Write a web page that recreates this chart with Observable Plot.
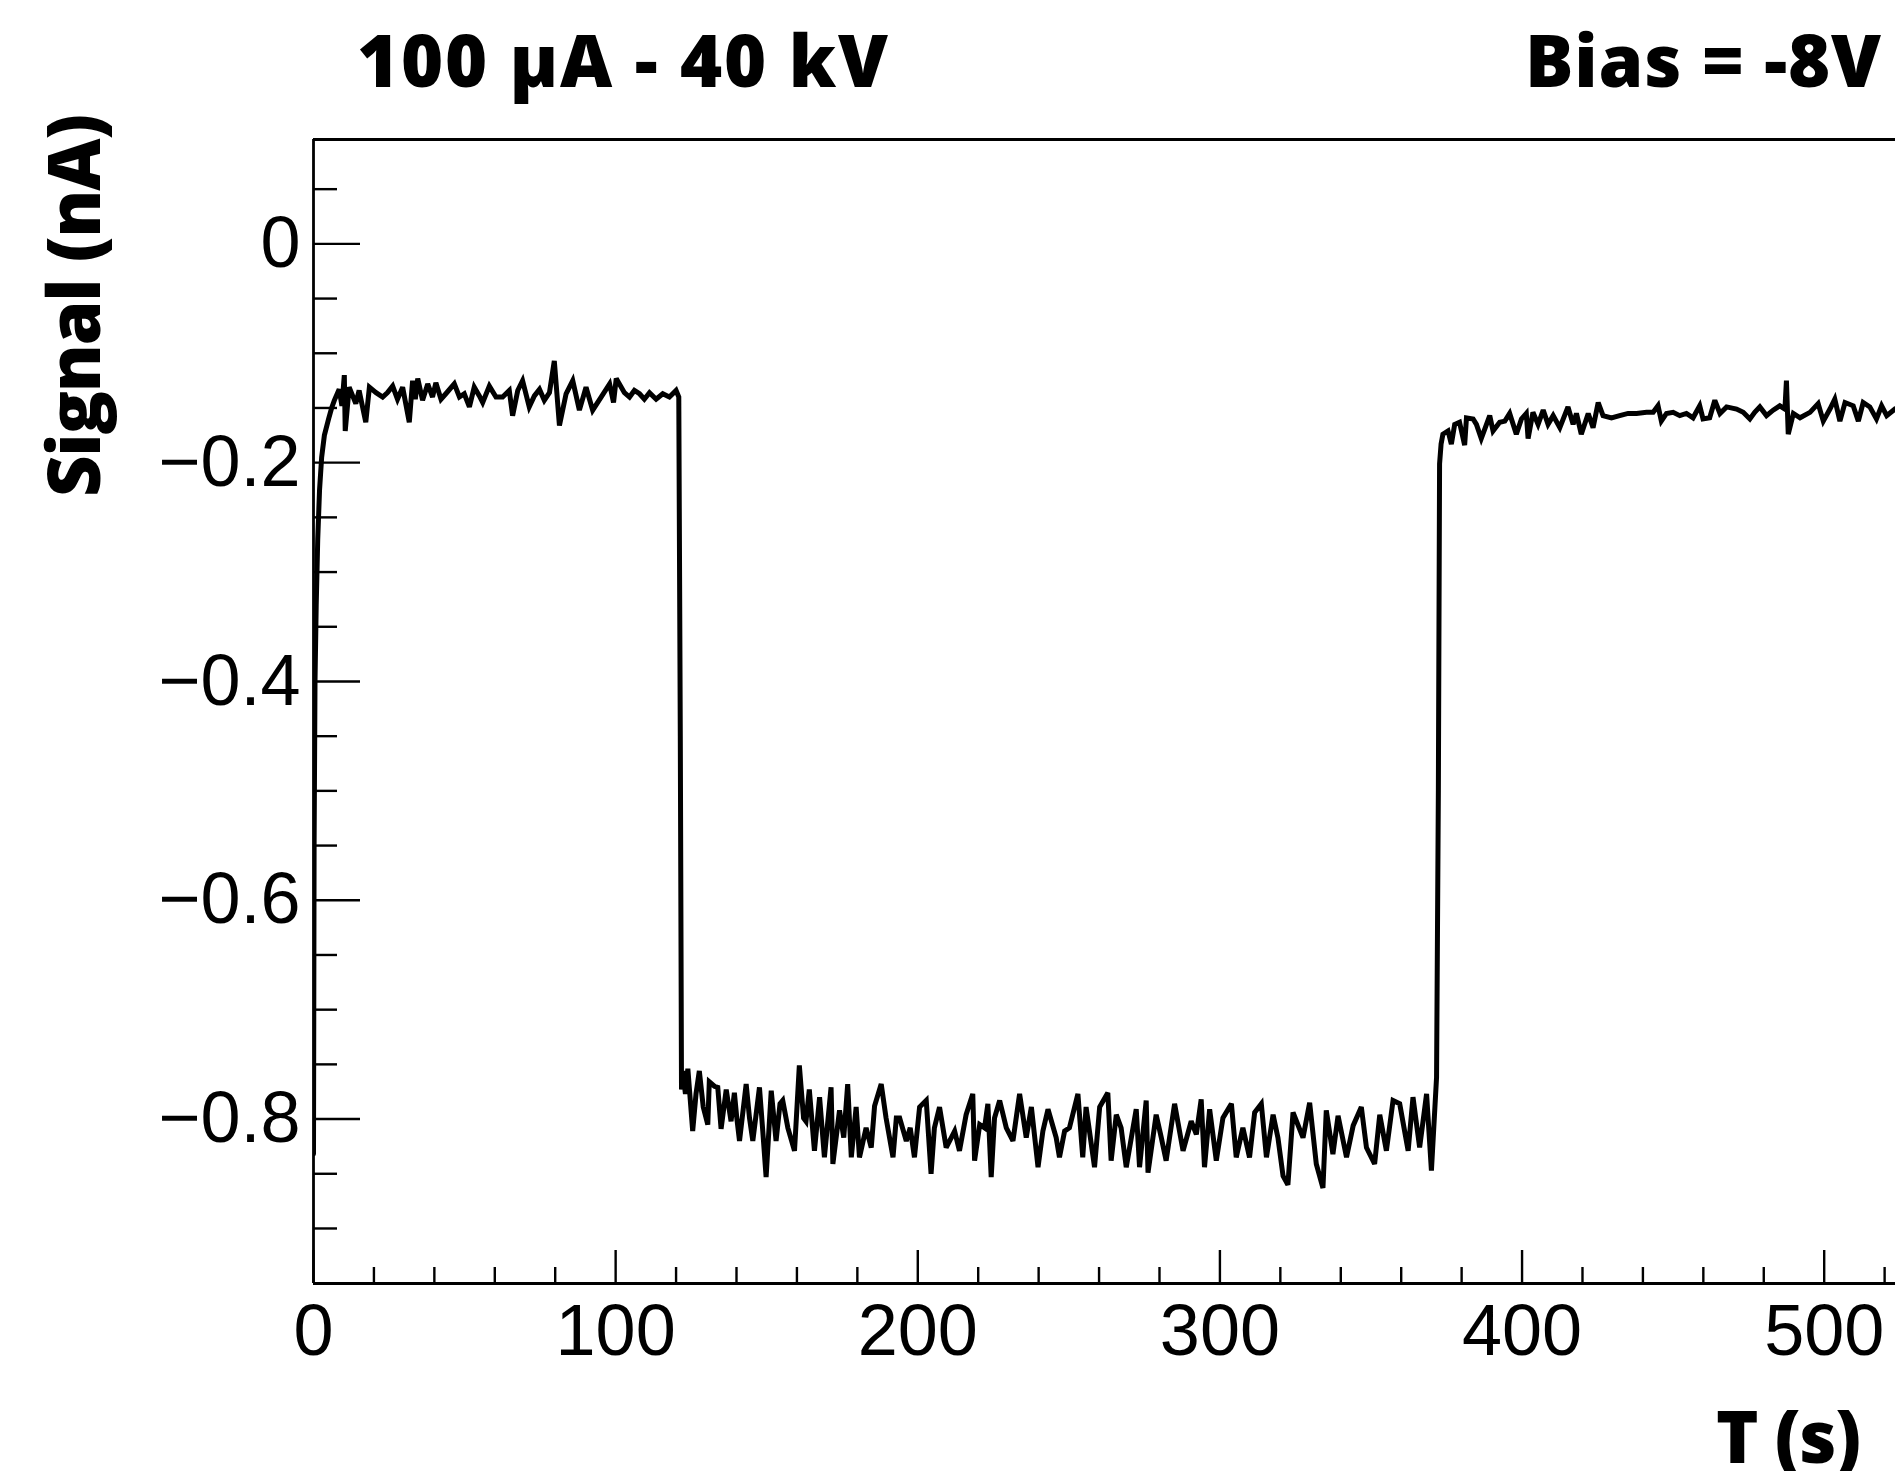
<!DOCTYPE html>
<html><head><meta charset="utf-8">
<script src="https://cdn.jsdelivr.net/npm/d3@7"></script>
<script src="https://cdn.jsdelivr.net/npm/@observablehq/plot@0.6"></script>
<style>body{margin:0;background:#fff;overflow:hidden}</style>
</head><body><div id="chart"></div>
<script>
// ---- data ----
const time1 = [0,0.2,0.5,0.9,1.4,2.0,2.7,3.6,5.0,6.0,6.9,8.5,9.4,10.2,10.5,11.8,14.0,15.1,17.3,18.5,20.7,22.9,24.5,26.2,27.8,29.5,31.7,32.8,33.7,34.5,36.1,37.8,39.4,40.5,42.2,43.8,46.6,48.3,49.9,51.6,53.2,54.9,56.0,58.2,60.4,62.6,64.8,65.9,67.6,69.2,71.4,73.1,74.8,76.4,78.1,79.7,81.4,83.6,85.8,88.0,90.2,92.4,95.2,98.0,99.3,100.2,102.9,104.6,106.2,107.9,109.5,111.2,113.4,115.6,117.8,120.0,120.9];
const signal1 = [-0.832,-0.55,-0.40,-0.33,-0.27,-0.225,-0.195,-0.175,-0.16,-0.15,-0.143,-0.133,-0.148,-0.120,-0.171,-0.131,-0.146,-0.134,-0.163,-0.131,-0.136,-0.140,-0.136,-0.130,-0.142,-0.131,-0.163,-0.125,-0.142,-0.123,-0.143,-0.128,-0.140,-0.127,-0.142,-0.137,-0.128,-0.140,-0.137,-0.149,-0.131,-0.139,-0.145,-0.130,-0.140,-0.140,-0.134,-0.157,-0.134,-0.125,-0.149,-0.139,-0.133,-0.143,-0.136,-0.107,-0.166,-0.137,-0.125,-0.152,-0.131,-0.152,-0.140,-0.128,-0.145,-0.123,-0.136,-0.140,-0.134,-0.137,-0.142,-0.136,-0.142,-0.137,-0.140,-0.134,-0.140];

const time2 = [121.4,121.8,122.2,123.1,123.9,125.5,126.6,127.7,129.0,130.5,131.0,132.7,133.8,134.9,136.6,138.2,139.3,140.1,141.0,143.2,144.3,145.4,147.6,148.7,149.8,151.5,153.1,154.4,155.3,157.0,159.2,160.8,162.2,163.0,164.1,165.8,167.5,169.1,171.3,171.9,174.1,175.5,176.8,178.0,179.6,180.7,182.9,184.6,185.7,187.9,189.5,191.8,192.9,194.0,196.2,197.5,198.9,200.6,202.8,204.4,205.5,207.2,209.4,211.1,212.2,213.8,216.0,218.2,218.8,220.5,222.1,223.2,224.3,225.4,227.1,229.3,231.5,233.7,235.9,237.6,239.8,241.4,243.1,245.8];
const signal2 = [-0.45,-0.773,-0.756,-0.777,-0.754,-0.811,-0.777,-0.756,-0.789,-0.805,-0.766,-0.770,-0.771,-0.809,-0.773,-0.802,-0.776,-0.799,-0.820,-0.768,-0.799,-0.820,-0.771,-0.811,-0.853,-0.774,-0.820,-0.786,-0.783,-0.808,-0.829,-0.751,-0.799,-0.802,-0.773,-0.829,-0.780,-0.835,-0.771,-0.841,-0.792,-0.817,-0.768,-0.835,-0.789,-0.835,-0.808,-0.826,-0.788,-0.768,-0.799,-0.835,-0.799,-0.799,-0.820,-0.808,-0.835,-0.789,-0.783,-0.850,-0.808,-0.789,-0.826,-0.817,-0.811,-0.829,-0.796,-0.777,-0.838,-0.805,-0.808,-0.786,-0.853,-0.799,-0.783,-0.808,-0.820,-0.777,-0.817,-0.789,-0.844,-0.811,-0.791,-0.817];

const time3 = [246.9,248.6,250.2,253.0,254.6,255.7,258.5,260.2,262.9,264.0,265.7,267.3,269.0,272.3,273.4,275.6,276.2,278.9,280.6,282.2,285.0,287.8,290.5,292.2,293.8,294.9,296.6,298.8,301.0,303.8,305.4,307.6,309.8,311.5,313.7,315.4,317.6,319.2,320.9,322.5,324.2,327.5,329.7,331.9,334.1,335.2,337.4,339.1,341.9,344.1,346.8,348.5,351.2,352.9,355.1,357.3,359.5,362.3,363.9,366.1,368.4,370.0,371.7];
const signal3 = [-0.835,-0.811,-0.808,-0.777,-0.835,-0.789,-0.844,-0.789,-0.776,-0.838,-0.796,-0.808,-0.844,-0.791,-0.844,-0.783,-0.849,-0.796,-0.817,-0.838,-0.786,-0.829,-0.802,-0.814,-0.782,-0.844,-0.791,-0.838,-0.799,-0.786,-0.835,-0.808,-0.835,-0.794,-0.786,-0.835,-0.796,-0.817,-0.852,-0.860,-0.794,-0.817,-0.785,-0.841,-0.863,-0.792,-0.832,-0.797,-0.835,-0.806,-0.789,-0.826,-0.841,-0.796,-0.829,-0.783,-0.786,-0.829,-0.780,-0.826,-0.777,-0.847,-0.762];

const time4 = [372.3,372.7,373.2,373.8,375.5,376.6,377.7,379.3,381.0,381.6,383.8,384.9,386.5,389.3,390.4,392.6,394.3,395.9,398.1,399.8,401.4,402.0,403.6,405.3,407.0,408.6,410.3,412.5,415.2,416.9,418.0,419.6,421.9,423.5,425.2,426.8,429.6,432.3,435.1,437.9,441.2,443.4,445.0,446.1,447.8,450.0,452.2,454.4,456.6,458.8,459.9,462.1,463.8,465.5,467.7,471.0,473.2,475.4,477.0,478.7,480.9,483.1,485.3,487.0,487.5,488.1,489.8,492.0,495.3,498.0,499.7,501.9,503.5,505.2,506.9,509.6,511.3,512.9,515.1,517.3,519.0,520.7,523.4,525.0];
const signal4 = [-0.50,-0.201,-0.183,-0.174,-0.171,-0.183,-0.165,-0.163,-0.184,-0.159,-0.160,-0.165,-0.178,-0.157,-0.171,-0.163,-0.162,-0.155,-0.174,-0.160,-0.155,-0.178,-0.154,-0.165,-0.152,-0.165,-0.157,-0.168,-0.149,-0.165,-0.155,-0.174,-0.155,-0.168,-0.145,-0.157,-0.159,-0.157,-0.155,-0.155,-0.154,-0.154,-0.148,-0.162,-0.155,-0.154,-0.157,-0.155,-0.159,-0.148,-0.160,-0.159,-0.143,-0.155,-0.149,-0.151,-0.154,-0.160,-0.154,-0.149,-0.157,-0.152,-0.148,-0.151,-0.125,-0.174,-0.155,-0.159,-0.154,-0.146,-0.162,-0.151,-0.142,-0.162,-0.145,-0.148,-0.162,-0.145,-0.149,-0.160,-0.148,-0.157,-0.151,-0.152];

const xMajorTicks = [0,100,200,300,400,500];
const xMinorTicks = [20,40,60,80,120,140,160,180,220,240,260,280,320,340,360,380,420,440,460,480,520];
const yMajorTicks = [0,-0.2,-0.4,-0.6,-0.8];
const yMinorTicks = [0.05,-0.05,-0.1,-0.15,-0.25,-0.3,-0.35,-0.45,-0.5,-0.55,-0.65,-0.7,-0.75,-0.85,-0.9];
const xDomain = [0, 523.6];
const yDomain = [-0.9503, 0.0954];

const titleLeft = "100 µA - 40 kV";
const titleRight = "Bias = -8V";
const xLabel = "T (s)";
const yLabel = "Signal (nA)";

// ---- build ----
const zip = (t, s) => t.slice(0, Math.min(t.length, s.length)).map((v, i) => ({t: v, s: s[i]}));
const series = [].concat(zip(time1, signal1), zip(time2, signal2), zip(time3, signal3), zip(time4, signal4));

const W = 1895, H = 1471, mL = 313, mT = 139, mB = 188, mR = 0;
const innerW = W - mL - mR, innerH = H - mT - mB;
const fmtY = d => d === 0 ? "0" : (d < 0 ? "\u2212" : "") + Math.abs(d).toFixed(1);

const plot = Plot.plot({
  width: W, height: H,
  marginLeft: mL, marginTop: mT, marginBottom: mB, marginRight: mR,
  x: {domain: xDomain},
  y: {domain: yDomain},
  style: {fontFamily: "'Liberation Sans', Arial, Helvetica, sans-serif", fontSize: "72px", color: "#000", background: "#fff", overflow: "hidden"},
  marks: [
    Plot.line(series, {x: "t", y: "s", stroke: "#000", strokeWidth: 5, strokeLinejoin: "miter", strokeMiterlimit: 3, clip: true}),
    Plot.tickX(xMajorTicks, {x: d => d, insetTop: innerH - 33, stroke: "#000", strokeWidth: 2.4}),
    Plot.tickX(xMinorTicks, {x: d => d, insetTop: innerH - 16, stroke: "#000", strokeWidth: 2.4}),
    Plot.tickY(yMajorTicks, {y: d => d, insetRight: innerW - 47, stroke: "#000", strokeWidth: 2.4}),
    Plot.tickY(yMinorTicks, {y: d => d, insetRight: innerW - 24, stroke: "#000", strokeWidth: 2.4}),
    Plot.ruleY([yDomain[1]], {stroke: "#000", strokeWidth: 2.8}),
    Plot.ruleY([yDomain[0]], {stroke: "#000", strokeWidth: 2.8}),
    Plot.ruleX([xDomain[0]], {stroke: "#000", strokeWidth: 2.8}),
    Plot.axisX(xMajorTicks, {tickSize: 0, tickPadding: 20, fontSize: 72, label: null, tickFormat: d => String(d)}),
    Plot.axisY(yMajorTicks, {tickSize: 0, tickPadding: 13, fontSize: 72, label: null, tickFormat: fmtY})
  ]
});

const svg = d3.select(plot);
const bold = "'Open Sans', Lato, sans-serif";
function addText(str, x, y, anchor, len, transform) {
  const t = svg.append("text")
    .attr("font-family", bold).attr("font-weight", 800).attr("font-size", 72)
    .attr("fill", "#000").attr("text-anchor", anchor)
    .attr("textLength", len).attr("lengthAdjust", "spacing").text(str);
  if (transform) t.attr("transform", transform); else t.attr("x", x).attr("y", y);
  return t;
}
addText(titleLeft, 357, 87, "start", 531);
addText(titleRight, 1881, 87, "end", 356);
addText(xLabel, 1861, 1463, "end", 145);
addText(yLabel, 0, 0, "end", 383, "translate(100,114) rotate(-90)");

document.getElementById("chart").appendChild(plot);
</script>
</body></html>
